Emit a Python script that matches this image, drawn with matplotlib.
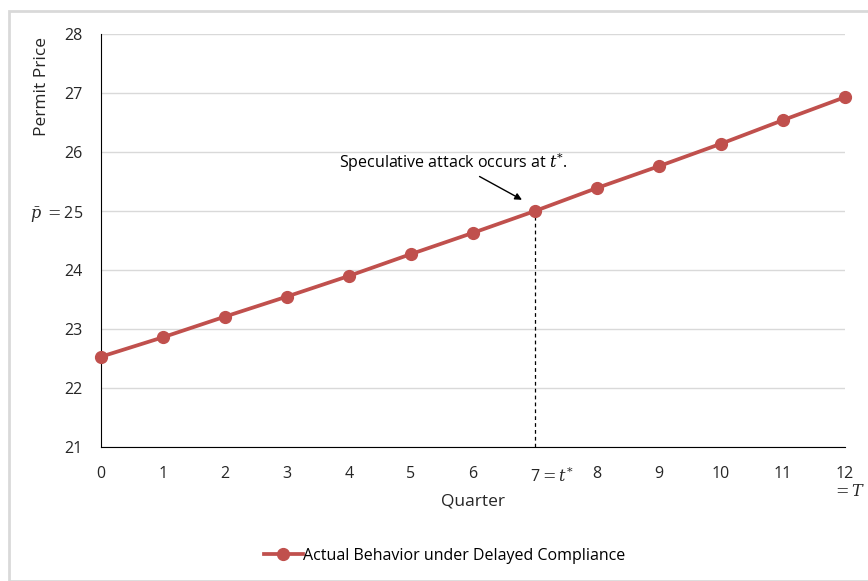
import matplotlib
matplotlib.use("Agg")
import matplotlib.pyplot as plt
from matplotlib.patches import Rectangle
from matplotlib.transforms import ScaledTranslation

plt.rcParams['font.family'] = ['Open Sans', 'DejaVu Sans']
plt.rcParams['mathtext.fontset'] = 'dejavuserif'

# data
quarters = [0, 1, 2, 3, 4, 5, 6, 7, 8, 9, 10, 11, 12]
prices = [22.53, 22.86, 23.21, 23.55, 23.90, 24.27, 24.63, 25.00, 25.39, 25.76, 26.14, 26.54, 26.93]
x_labels = ['0', '1', '2', '3', '4', '5', '6', '7$=t^{*}$', '8', '9', '10', '11', '12\n  $=T$']
y_ticks = [21, 22, 23, 24, 25, 26, 27, 28]
y_labels = ['21', '22', '23', '24', r'$\bar{p}$ $=$25', '26', '27', '28']
t_star = 7
p_bar = 25

red = '#C0504D'
grid = '#D9D9D9'
txt = '#262626'

fig = plt.figure(figsize=(8.68, 5.81), dpi=100)
ax = fig.add_axes([101/868, 1-447/581, (845-101)/868, (447-34)/581])

# outer chart border
fig.patches.append(Rectangle((9/868, 0), 1, 1-11/581, transform=fig.transFigure,
                             fill=False, edgecolor=grid, linewidth=2))

line, = ax.plot(quarters, prices, color=red, linewidth=2.7, marker='o', markersize=8.5,
                label='Actual Behavior under Delayed Compliance', zorder=3, clip_on=False)

ax.plot([t_star, t_star], [21, p_bar], color='black', linestyle=(0, (3, 2.5)), linewidth=0.9, zorder=2)

ax.set_xlim(0, 12)
ax.set_ylim(21, 28)
ax.set_xticks(quarters)
ax.set_xticklabels(x_labels, fontsize=11.5, color=txt, va='top', linespacing=1.1)
ax.set_yticks(y_ticks)
ax.set_yticklabels(y_labels, fontsize=11.5, color=txt)
ax.tick_params(axis='y', length=0, pad=13)
ax.tick_params(axis='x', length=0, pad=14)
ax.grid(axis='y', color=grid, linewidth=1)
ax.set_axisbelow(True)
for s in ['top', 'right']:
    ax.spines[s].set_visible(False)
ax.spines['left'].set_color('black')
ax.spines['bottom'].set_color('black')

# "7 = t*" starts at the tick rather than being centred on it
lab7 = ax.xaxis.get_major_ticks()[t_star].label1
lab7.set_ha('left')
lab7.set_transform(lab7.get_transform() + ScaledTranslation(-5/100, 0, fig.dpi_scale_trans))

fig.text(473/868, 1-502/581, 'Quarter', ha='center', va='center', fontsize=12.5, color=txt)
fig.text(42/868, 1-86/581, 'Permit Price', rotation=90, ha='center', va='center',
         fontsize=12.5, color=txt)

ax.annotate('Speculative attack occurs at $t^{*}$.', xy=(6.79, 25.19), xytext=(5.68, 25.83),
            ha='center', va='center', fontsize=11.5, color='black',
            arrowprops=dict(arrowstyle='-|>', color='black', linewidth=1, mutation_scale=10,
                            shrinkA=0, shrinkB=0),
            annotation_clip=False)

fig.legend(handles=[line], loc='center', bbox_to_anchor=(445/868, 1-556/581), frameon=False,
           fontsize=11.5, handlelength=2.4, handletextpad=0.05)

plt.savefig('out.png', dpi=100)
